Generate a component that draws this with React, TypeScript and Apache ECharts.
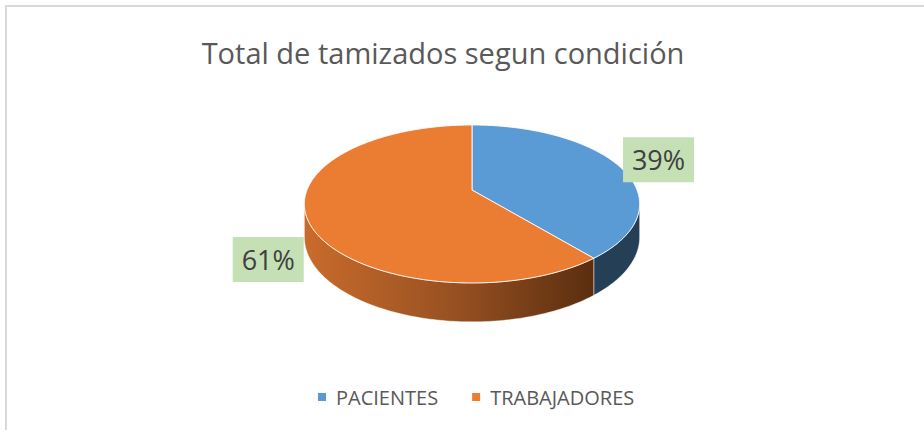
import React, { useEffect, useRef } from "react";
import * as echarts from "echarts";

// ---- data ----
const categories = ["PACIENTES", "TRABAJADORES"];
const values = [39, 61];
const titleText = "Total de tamizados segun condición";

// ---- styles ----
const topColors = ["#5b9bd5", "#ea7d32"];
const legendColors = ["#5b9bd5", "#ed7d31"];
const FONT = "'Open Sans', 'Noto Sans', sans-serif";

// ---- geometry of the tilted, perspective pie ----
const CX = 472;
const VY = 190;
const AX = 165;
const CY = 76.5;
const K = 0.177;
const DEPTH = 32;
const SIL = Math.acos(-K) / (2 * Math.PI); // silhouette fraction (~0.278)
const LABEL_DX = 6;

function proj(r: number, f: number, dz = 0): [number, number] {
  const phi = f * 2 * Math.PI;
  const a = r * Math.sin(phi);
  const b = -r * Math.cos(phi);
  const s = 1 / (1 - K * b);
  return [CX + AX * a * s, VY + CY * b * s + dz * s];
}

function rimPoints(f0: number, f1: number, dz = 0): [number, number][] {
  const pts: [number, number][] = [];
  const n = Math.max(2, Math.ceil((f1 - f0) * 360));
  for (let i = 0; i <= n; i++) pts.push(proj(1, f0 + ((f1 - f0) * i) / n, dz));
  return pts;
}

function toPath(pts: [number, number][]): string {
  return (
    pts.map((p, i) => (i === 0 ? "M" : "L") + p[0].toFixed(2) + " " + p[1].toFixed(2)).join(" ") + " Z"
  );
}

const total = values.reduce((a, b) => a + b, 0);
const starts = values.map((_, i) => values.slice(0, i).reduce((a, b) => a + b, 0) / total);

function sideFill(i: number): any {
  if (i === 0) return "#243f56";
  return new echarts.graphic.LinearGradient(0, 0, 1, 0, [
    { offset: 0, color: "#c96b2c" },
    { offset: 0.5, color: "#995222" },
    { offset: 1, color: "#5b2e0f" },
  ]);
}

function makeRenderItem(i: number) {
  return (params: any, api: any) => {
    const v = api.value(0);
    const f0 = starts[i];
    const f1 = f0 + v / total;
    const children: any[] = [];
    // side wall (front visible part only)
    const g0 = Math.max(f0, SIL);
    const g1 = Math.min(f1, 1 - SIL);
    if (g1 > g0) {
      const top = rimPoints(g0, g1, 0);
      const bot = rimPoints(g0, g1, DEPTH).reverse();
      children.push({
        type: "path",
        shape: { pathData: toPath(top.concat(bot)) },
        style: { fill: sideFill(i), stroke: "rgba(255,255,255,0.55)", lineWidth: 0.8 },
        z2: 1,
      });
    }
    // top face
    const vertex: [number, number] = [CX, VY];
    const topPts = [vertex].concat(rimPoints(f0, f1, 0));
    children.push({
      type: "path",
      shape: { pathData: toPath(topPts) },
      style: { fill: topColors[i], stroke: "rgba(255,255,255,0.85)", lineWidth: 1 },
      z2: 2,
    });
    // data label
    const mid = (f0 + f1) / 2;
    const r = 1.25;
    const phi = mid * 2 * Math.PI;
    const b = -r * Math.cos(phi);
    const [lx0, ly0] = proj(r, mid, 0);
    const s = 1 / (1 - K * b);
    const lx = lx0 + LABEL_DX;
    const ly = b > 0 ? ly0 + DEPTH * s : ly0;
    const pct = Math.round((v / total) * 100) + "%";
    const W = 71;
    const H = 45;
    children.push({
      type: "rect",
      shape: { x: lx - W / 2, y: ly - H / 2, width: W, height: H },
      style: { fill: "#c5e0b4" },
      z2: 10,
    });
    children.push({
      type: "text",
      x: lx,
      y: ly,
      style: {
        text: pct,
        fill: "#404040",
        font: `27px ${FONT}`,
        align: "center",
        verticalAlign: "middle",
      },
      z2: 11,
    });
    return { type: "group", children };
  };
}

export default function App() {
  const ref = useRef<HTMLDivElement>(null);
  useEffect(() => {
    if (!ref.current) return;
    const chart = echarts.init(ref.current, undefined, { renderer: "svg" });
    chart.setOption({
      animation: false,
      backgroundColor: "#ffffff",
      legend: {
        data: categories,
        left: 313,
        top: 382,
        icon: "rect",
        itemWidth: 8,
        itemHeight: 8,
        itemGap: 34,
        selectedMode: false,
        formatter: (name: string) => `{t|${name}}`,
        textStyle: {
          color: "#595959",
          fontFamily: FONT,
          fontSize: 20,
          rich: { t: { color: "#595959", fontFamily: FONT, fontSize: 20, padding: [0, 0, 0, 5] } },
        },
      },
      graphic: [
        {
          type: "rect",
          shape: { x: 6, y: 6, width: 940, height: 450 },
          style: { fill: "none", stroke: "#d9d9d9", lineWidth: 2 },
          silent: true,
        },
        {
          type: "text",
          x: 443,
          y: 52,
          style: {
            text: titleText,
            fill: "#595959",
            font: `29px ${FONT}`,
            align: "center",
            verticalAlign: "middle",
          },
          silent: true,
        },
      ],
      series: categories.map((name, i) => ({
        type: "custom",
        name,
        coordinateSystem: "none",
        silent: true,
        itemStyle: { color: legendColors[i] },
        renderItem: makeRenderItem(i),
        data: [[values[i]]],
      })),
    });
    return () => chart.dispose();
  }, []);
  return <div ref={ref} style={{ position: "fixed", left: 0, top: 0, width: 924, height: 430 }} />;
}
